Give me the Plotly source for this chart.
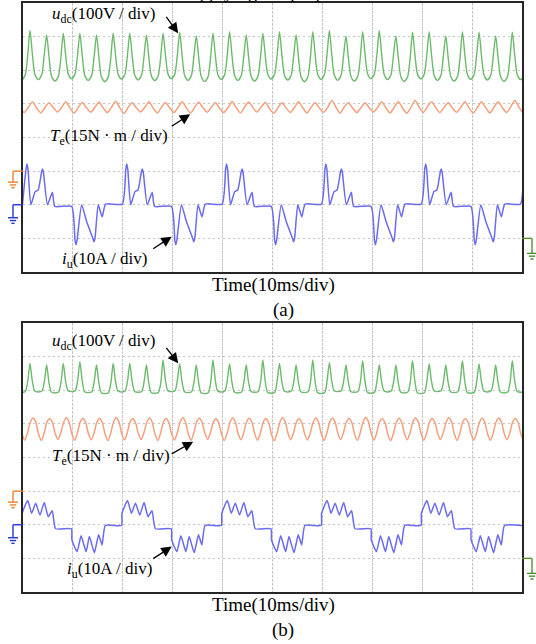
import plotly.graph_objects as go

# ---------------- recorded channel data ----------------
# Channel scales (unit per div) and ground levels (div from screen centre)
UDC_SCALE, TE_SCALE, IU_SCALE = 100.0, 15.0, 10.0
UDC_ZERO, TE_ZERO, IU_ZERO = -3.0, -1.0, -2.0

T_END = 100.0            # 10 ms/div x 10 div
RIPPLE_PERIOD = 3.333    # ms between ripple peaks

# DC-link voltage ripple peaks / troughs (V), one entry per ripple period
UDC_A_FIRST_PEAK = -1.933
UDC_A_PEAK = [610, 618, 605, 610, 610, 605, 610, 610, 605, 610, 613, 603, 610, 615, 605, 610,
              615, 605, 615, 618, 602, 615, 618, 602, 613, 615, 602, 615, 613, 602, 613]
UDC_A_TROUGH = [471, 472, 468, 475, 470, 466, 474, 471, 469, 475, 470, 467, 473, 470, 468, 474,
                471, 466, 473, 470, 468, 475, 472, 467, 474, 470, 468, 473, 471, 467, 472]

UDC_B_FIRST_PEAK = -1.933
UDC_B_PEAK = [580, 580, 575, 580, 585, 575, 580, 580, 575, 590, 578, 575, 590, 578, 575, 590,
              580, 575, 590, 582, 575, 588, 575, 575, 588, 578, 575, 588, 578, 575, 588]
UDC_B_TROUGH = [494, 495, 492, 496, 493, 490, 495, 494, 491, 496, 493, 490, 495, 492, 494, 491,
                495, 493, 490, 496, 494, 491, 495, 492, 490, 496, 493, 491, 495, 492, 494]

# Electromagnetic torque ripple peaks / troughs (N.m)
TE_A_FIRST_PEAK = -1.43
TE_A_PEAK = [30.8, 30.8, 30.5, 31.0, 30.6, 30.8, 31.2, 30.5, 30.9, 30.6, 31.0, 30.7, 30.5, 31.1, 30.8, 30.6,
             30.5, 31.0, 30.5, 31.5, 30.5, 30.5, 31.0, 31.0, 31.5, 31.0, 30.5, 31.0, 31.0, 31.0, 31.5]
TE_A_TROUGH = [26.2, 26.0, 26.4, 25.9, 26.3, 26.1, 25.8, 26.4, 26.0, 26.2, 25.9, 26.3, 26.1, 26.0, 26.4, 25.8,
               26.2, 26.0, 26.3, 25.9, 26.1, 26.4, 26.0, 25.8, 26.2, 26.1, 26.3, 25.9, 26.0, 26.2, 26.1]

TE_B_FIRST_PEAK = -1.33
TE_B_PEAK = [32.5, 32.6, 32.3, 32.7, 32.4, 32.5, 32.8, 32.3, 32.6, 32.4, 32.7, 32.5, 32.3, 32.6, 32.5, 32.4,
             32.7, 32.3, 32.6, 32.5, 32.4, 32.8, 32.3, 32.5, 32.6, 32.4, 32.7, 32.3, 32.5, 32.6, 32.4]
TE_B_TROUGH = [22.8, 22.6, 23.0, 22.7, 22.9, 22.5, 22.8, 23.0, 22.6, 22.8, 22.7, 23.1, 22.6, 22.9, 22.7, 22.5,
               22.9, 22.8, 22.6, 23.0, 22.7, 22.8, 22.5, 22.9, 22.7, 23.0, 22.6, 22.8, 22.7, 22.9, 22.6]

# Ripple waveform within one period: (ms after the peak, fraction of peak-to-trough swing)
UDC_A_SHAPE = [(0, 1), (0.5, 0.5), (1.0, 0.1), (1.67, 0), (2.35, 0.1), (2.85, 0.5)]
UDC_B_SHAPE = [(0, 1), (0.45, 0.4), (0.95, 0.03), (1.67, 0), (2.4, 0.03), (2.9, 0.4)]
TE_A_SHAPE = [(0, 1), (0.83, 0.45), (1.67, 0), (2.5, 0.5)]
TE_B_SHAPE = [(0, 1), (0.55, 0.82), (1.1, 0.3), (1.67, 0), (2.2, 0.3), (2.8, 0.82)]

# Phase current half-waves: (ms after half-wave start, A)
IU_A_POS = [(0, 0.2), (0.7, 10.5), (0.9, 12.1), (1.1, 10.5), (1.68, 0.0), (2.54, 3.9), (3.14, 4.4),
            (3.8, 9.6), (4.0, 10.6), (4.2, 9.6), (5.0, 0.0), (6.0, 3.7), (6.48, -0.5)]
IU_A_NEG = [(0, -0.5), (0.68, -10.6), (0.88, -11.9), (1.1, -10.4), (2.0, 0.0), (3.0, -5.0),
            (4.26, -10.0), (4.46, -11.0), (4.68, -10.0), (5.32, 0.0), (6.12, -3.6), (6.8, 0.2)]
IU_A_POS_START = [-0.1, 19.9, 39.9, 59.8, 79.8, 99.7]
IU_A_NEG_START = [9.75, 29.75, 49.75, 69.75, 89.75]

IU_B_POS = [(0, -0.2), (0.1, 3.4), (1.2, 7.2), (2.0, 3.4), (2.8, 6.4), (3.66, 2.9), (4.52, 6.6),
            (5.32, 2.4), (6.12, 4.2), (6.8, -1.2)]
IU_B_NEG = [(0, -1.2), (0.1, -4.5), (1.14, -8.0), (1.94, -3.3), (2.94, -8.0), (3.6, -3.5),
            (4.6, -8.3), (5.46, -3.0), (6.14, -6.0), (6.8, -0.2)]
IU_B_POS_START = [-0.26, 19.74, 39.74, 59.74, 79.74]
IU_B_NEG_START = [9.7, 29.7, 49.7, 69.7, 89.7]


def ripple(first_peak, peaks, troughs, shape):
    t, v = [], []
    for k, (p, q) in enumerate(zip(peaks, troughs)):
        t0 = first_peak + k * RIPPLE_PERIOD
        for dt, w in shape:
            t.append(t0 + dt)
            v.append(q + w * (p - q))
    return t, v


def half_waves(pos_start, pos_shape, neg_start, neg_shape):
    events = [(s, pos_shape) for s in pos_start] + [(s, neg_shape) for s in neg_start]
    events.sort(key=lambda e: e[0])
    t, v = [], []
    for s, shape in events:
        for dt, val in shape:
            t.append(s + dt)
            v.append(val)
    if t[-1] < T_END:
        t.append(T_END)
        v.append(v[-1])
    return t, v


def to_div(values, scale, zero):
    return [zero + val / scale for val in values]


# ---------------- page geometry ----------------
W, H = 536, 644
FRAME_L, FRAME_R = 23, 522
PANEL_TOPS = [3, 323]
PANEL_H = 269
DIV_PX = PANEL_H / 8

GREEN, ORANGE, BLUE = "#6cba6c", "#f5a07c", "#6b6bef"
G_GREEN, G_ORANGE, G_BLUE = "#4f8f2f", "#e8802e", "#2036d8"
FONT = "Liberation Serif, Times New Roman, serif"


def paper(x, y):
    return x / W, 1 - y / H


fig = go.Figure()

panels = [
    dict(udc=ripple(UDC_A_FIRST_PEAK, UDC_A_PEAK, UDC_A_TROUGH, UDC_A_SHAPE),
         te=ripple(TE_A_FIRST_PEAK, TE_A_PEAK, TE_A_TROUGH, TE_A_SHAPE),
         iu=half_waves(IU_A_POS_START, IU_A_POS, IU_A_NEG_START, IU_A_NEG),
         iu_smooth=0.5, caption="(a)"),
    dict(udc=ripple(UDC_B_FIRST_PEAK, UDC_B_PEAK, UDC_B_TROUGH, UDC_B_SHAPE),
         te=ripple(TE_B_FIRST_PEAK, TE_B_PEAK, TE_B_TROUGH, TE_B_SHAPE),
         iu=half_waves(IU_B_POS_START, IU_B_POS, IU_B_NEG_START, IU_B_NEG),
         iu_smooth=0.45, caption="(b)"),
]

# label anchors (ms, div) and arrow tips / tail offsets (px) for each panel
label_pos = [
    dict(udc=(5.4, 3.64), te=(5.0, 0.02), iu=(7.4, -3.64)),
    dict(udc=(5.4, 3.44), te=(5.4, 0.02), iu=(8.4, -3.35)),
]
arrow_pos = [
    dict(udc=(31.1, 3.10, -13, -18), te=(33.5, 0.69, -20, 13), iu=(29.8, -2.95, -20, 13)),
    dict(udc=(31.1, 2.80, -13, -17), te=(34.1, 0.47, -23, 13), iu=(29.8, -2.65, -20, 13)),
]

layout = dict(width=W, height=H, margin=dict(l=0, r=0, t=0, b=0),
              paper_bgcolor="white", plot_bgcolor="white", showlegend=False)
annotations, shapes = [], []

for i, (pn, top) in enumerate(zip(panels, PANEL_TOPS)):
    sfx = "" if i == 0 else str(i + 1)
    xa, ya = "x" + sfx, "y" + sfx
    y0p, y1p = 1 - (top + PANEL_H) / H, 1 - top / H
    common = dict(showticklabels=False, ticks="", zeroline=False, showgrid=True,
                  gridcolor="#c6c6c6", gridwidth=1, showline=True, mirror=True,
                  linecolor="#262626", linewidth=1.5, fixedrange=True)
    layout["xaxis" + sfx] = dict(domain=[FRAME_L / W, FRAME_R / W], range=[0, T_END], tick0=0, dtick=10,
                                 griddash="3px,1px", anchor=ya, **common)
    layout["yaxis" + sfx] = dict(domain=[y0p, y1p], range=[-4, 4], tick0=-4, dtick=1,
                                 griddash="2px,3px", anchor=xa, **common)

    t, v = pn["udc"]
    fig.add_trace(go.Scatter(x=t, y=to_div(v, UDC_SCALE, UDC_ZERO), xaxis=xa, yaxis=ya, mode="lines",
                             line=dict(color=GREEN, width=1.4, shape="spline", smoothing=0.7)))
    t, v = pn["te"]
    fig.add_trace(go.Scatter(x=t, y=to_div(v, TE_SCALE, TE_ZERO), xaxis=xa, yaxis=ya, mode="lines",
                             line=dict(color=ORANGE, width=1.5, shape="spline", smoothing=0.7)))
    t, v = pn["iu"]
    fig.add_trace(go.Scatter(x=t, y=to_div(v, IU_SCALE, IU_ZERO), xaxis=xa, yaxis=ya, mode="lines",
                             line=dict(color=BLUE, width=1.5, shape="spline", smoothing=pn["iu_smooth"])))

    # channel labels
    lab = label_pos[i]
    texts = dict(udc="<i>u</i><sub>dc</sub>(100V / div)",
                 te="<i>T</i><sub>e</sub>(15N · m / div)",
                 iu="<i>i</i><sub>u</sub>(10A / div)")
    for key, txt in texts.items():
        lx, ly = lab[key]
        annotations.append(dict(x=lx, y=ly, xref=xa, yref=ya, text=txt, showarrow=False,
                                xanchor="left", yanchor="middle",
                                font=dict(family=FONT, size=17, color="black")))
    for key, (ax_, ay_, dx, dy) in arrow_pos[i].items():
        annotations.append(dict(x=ax_, y=ay_, xref=xa, yref=ya, text="", showarrow=True,
                                ax=dx, ay=dy, axref="pixel", ayref="pixel",
                                arrowhead=2, arrowsize=1.6, arrowwidth=1.3, arrowcolor="black"))

    # captions below the frame
    cx, cy = paper(273, top + 282)
    annotations.append(dict(x=cx, y=cy, xref="paper", yref="paper", text="Time(10ms/div)", showarrow=False,
                            xanchor="center", yanchor="middle", font=dict(family=FONT, size=19, color="black")))
    cx, cy = paper(283, top + 307)
    annotations.append(dict(x=cx, y=cy, xref="paper", yref="paper", text=pn["caption"], showarrow=False,
                            xanchor="center", yanchor="middle", font=dict(family=FONT, size=19, color="black")))

    # ground-level markers for each channel
    def ground(zero, side, color, drop):
        y = top + (4 - zero) * DIV_PX
        xe = FRAME_L if side < 0 else FRAME_R
        xs = xe + side * 10
        segs = [(xe, y, xs, y), (xs, y, xs, y + drop)]
        for k, half in enumerate([5, 3.2, 1.6]):
            yy = y + drop + k * 2.8
            segs.append((xs - half, yy, xs + half, yy))
        for x0, yy0, x1, yy1 in segs:
            p0, p1 = paper(x0, yy0), paper(x1, yy1)
            shapes.append(dict(type="line", xref="paper", yref="paper",
                               x0=p0[0], y0=p0[1], x1=p1[0], y1=p1[1],
                               line=dict(color=color, width=1.4)))

    ground(TE_ZERO, -1, G_ORANGE, 11)
    ground(IU_ZERO, -1, G_BLUE, 13)
    ground(UDC_ZERO, 1, G_GREEN, 15)

# heading line running off the top of the page
hx, hy = paper(275, 4)
annotations.append(dict(x=hx, y=hy, xref="paper", yref="paper", text="applying the proposed",
                        showarrow=False, xanchor="center", yanchor="bottom",
                        font=dict(family=FONT, size=19, color="black")))

layout["annotations"] = annotations
layout["shapes"] = shapes
fig.update_layout(**layout)
fig.write_html("out.html")
